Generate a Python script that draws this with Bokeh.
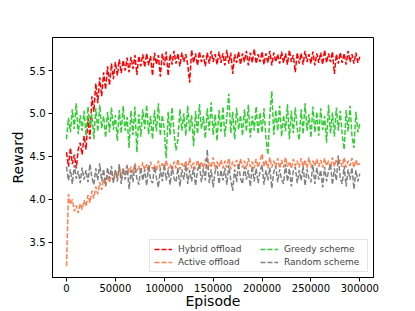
from bokeh.plotting import figure
from bokeh.models import Range1d, FixedTicker, NumeralTickFormatter, Legend, LegendItem
from bokeh.embed import file_html
from bokeh.resources import INLINE

episodes = list(range(0, 300001, 2000))

hybrid_offload = [
    4.55, 4.38, 4.60, 4.41, 4.52, 4.36, 4.58, 4.66, 4.52, 4.74,
    4.58, 4.95, 4.70, 5.20, 5.02, 5.35, 5.12, 5.42, 5.20, 5.48,
    5.28, 5.55, 5.33, 5.58, 5.40, 5.60, 5.44, 5.63, 5.47, 5.62,
    5.50, 5.65, 5.48, 5.66, 5.52, 5.68, 5.45, 5.67, 5.55, 5.69,
    5.54, 5.70, 5.56, 5.67, 5.44, 5.71, 5.57, 5.68, 5.43, 5.70,
    5.56, 5.72, 5.44, 5.69, 5.57, 5.73, 5.58, 5.70, 5.55, 5.71,
    5.60, 5.69, 5.57, 5.36, 5.74, 5.59, 5.70, 5.56, 5.72, 5.60,
    5.68, 5.55, 5.71, 5.58, 5.73, 5.60, 5.69, 5.57, 5.72, 5.59,
    5.70, 5.56, 5.74, 5.58, 5.71, 5.46, 5.69, 5.59, 5.72, 5.57,
    5.70, 5.60, 5.73, 5.56, 5.71, 5.59, 5.75, 5.58, 5.69, 5.60,
    5.72, 5.57, 5.70, 5.59, 5.73, 5.56, 5.71, 5.60, 5.69, 5.58,
    5.72, 5.59, 5.70, 5.57, 5.74, 5.60, 5.68, 5.48, 5.71, 5.58,
    5.70, 5.57, 5.73, 5.60, 5.69, 5.58, 5.72, 5.56, 5.70, 5.59,
    5.71, 5.57, 5.74, 5.59, 5.70, 5.60, 5.72, 5.46, 5.69, 5.58,
    5.71, 5.59, 5.70, 5.57, 5.73, 5.60, 5.69, 5.58, 5.71, 5.59, 5.66,
]

active_offload = [
    3.22, 4.06, 3.94, 4.00, 3.86, 3.93, 3.84, 3.95, 3.88, 3.99,
    3.92, 4.05, 3.96, 4.10, 4.01, 4.15, 4.06, 4.20, 4.11, 4.24,
    4.15, 4.28, 4.19, 4.31, 4.22, 4.34, 4.24, 4.37, 4.27, 4.36,
    4.29, 4.40, 4.31, 4.38, 4.30, 4.42, 4.33, 4.39, 4.31, 4.43,
    4.34, 4.41, 4.32, 4.44, 4.35, 4.40, 4.33, 4.45, 4.36, 4.42,
    4.34, 4.46, 4.35, 4.41, 4.33, 4.44, 4.36, 4.47, 4.35, 4.42,
    4.37, 4.45, 4.34, 4.48, 4.36, 4.43, 4.35, 4.46, 4.37, 4.44,
    4.36, 4.47, 4.34, 4.43, 4.37, 4.49, 4.35, 4.44, 4.38, 4.46,
    4.36, 4.45, 4.37, 4.48, 4.35, 4.44, 4.38, 4.46, 4.36, 4.47,
    4.37, 4.45, 4.35, 4.48, 4.38, 4.44, 4.36, 4.47, 4.37, 4.45,
    4.53, 4.38, 4.46, 4.36, 4.49, 4.37, 4.45, 4.38, 4.48, 4.36,
    4.46, 4.37, 4.49, 4.38, 4.44, 4.36, 4.47, 4.39, 4.45, 4.37,
    4.48, 4.38, 4.46, 4.36, 4.49, 4.37, 4.45, 4.39, 4.47, 4.38,
    4.46, 4.37, 4.48, 4.39, 4.45, 4.36, 4.49, 4.38, 4.47, 4.40,
    4.46, 4.38, 4.49, 4.37, 4.45, 4.39, 4.48, 4.37, 4.46, 4.39, 4.42,
]

greedy_scheme = [
    4.70, 4.95, 4.78, 5.05, 4.82, 5.12, 4.76, 4.98, 4.80, 5.03,
    4.74, 5.08, 4.85, 4.99, 4.70, 5.06, 4.79, 5.10, 4.83, 4.97,
    4.72, 5.02, 4.78, 5.07, 4.81, 4.98, 4.68, 5.04, 4.77, 5.09,
    4.80, 4.96, 4.60, 5.03, 4.75, 5.08, 4.55, 4.99, 4.73, 5.05,
    4.82, 5.10, 4.76, 4.97, 4.70, 5.04, 4.79, 5.12, 4.74, 4.98,
    4.81, 4.48, 5.02, 4.75, 5.07, 4.78, 4.57, 4.70, 5.05, 4.80,
    5.00, 4.74, 5.09, 4.79, 4.98, 4.62, 5.03, 4.76, 5.11, 4.82,
    4.97, 4.71, 5.06, 4.80, 5.13, 4.75, 4.99, 4.68, 5.04, 4.79,
    5.08, 4.73, 4.96, 5.23, 4.77, 5.02, 4.70, 5.07, 4.81, 4.98,
    4.74, 5.05, 4.79, 5.10, 4.72, 4.97, 4.80, 5.08, 4.76, 5.01,
    4.78, 5.06, 4.71, 4.52, 4.99, 5.26, 4.75, 5.04, 4.80, 5.09,
    4.73, 4.98, 4.79, 5.11, 4.70, 5.03, 4.77, 5.07, 4.82, 4.69,
    5.05, 4.76, 5.12, 4.80, 4.99, 4.72, 5.08, 4.78, 5.02, 4.74,
    5.06, 4.81, 4.97, 4.66, 5.10, 4.77, 5.01, 4.73, 5.07, 4.80,
    5.03, 4.75, 4.58, 5.04, 4.79, 5.09, 4.74, 4.60, 5.02, 4.78, 4.88,
]

random_scheme = [
    4.38, 4.22, 4.35, 4.18, 4.40, 4.24, 4.33, 4.19, 4.37, 4.23,
    4.34, 4.20, 4.41, 4.25, 4.17, 4.36, 4.22, 4.42, 4.21, 4.35,
    4.16, 4.37, 4.24, 4.39, 4.19, 4.34, 4.21, 4.41, 4.18, 4.36,
    4.23, 4.39, 4.12, 4.34, 4.20, 4.40, 4.24, 4.17, 4.37, 4.22,
    4.35, 4.16, 4.40, 4.23, 4.19, 4.38, 4.25, 4.14, 4.36, 4.21,
    4.41, 4.22, 4.34, 4.17, 4.39, 4.24, 4.20, 4.37, 4.15, 4.35,
    4.23, 4.40, 4.18, 4.34, 4.21, 4.38, 4.16, 4.33, 4.41, 4.20,
    4.36, 4.22, 4.58, 4.19, 4.35, 4.14, 4.32, 4.39, 4.18, 4.34,
    4.22, 4.37, 4.17, 4.40, 4.23, 4.10, 4.35, 4.20, 4.42, 4.24,
    4.18, 4.38, 4.23, 4.34, 4.15, 4.39, 4.21, 4.36, 4.19, 4.33,
    4.40, 4.17, 4.34, 4.22, 4.37, 4.13, 4.32, 4.39, 4.20, 4.35,
    4.23, 4.18, 4.41, 4.21, 4.36, 4.15, 4.33, 4.38, 4.19, 4.34,
    4.22, 4.39, 4.16, 4.35, 4.24, 4.20, 4.40, 4.18, 4.37, 4.23,
    4.34, 4.14, 4.38, 4.21, 4.33, 4.41, 4.17, 4.36, 4.22, 4.51,
    4.24, 4.18, 4.39, 4.15, 4.35, 4.23, 4.37, 4.12, 4.34, 4.21, 4.30,
]

series_names = ["Hybrid offload", "Active offload", "Greedy scheme", "Random scheme"]
series_colors = ["#ff0000", "#ff7f50", "#32cd32", "#808080"]
x_ticks = [0, 50000, 100000, 150000, 200000, 250000, 300000]
y_ticks = [3.5, 4.0, 4.5, 5.0, 5.5]
x_label = "Episode"
y_label = "Reward"

FONT = "DejaVu Sans"

p = figure(width=415, height=311, output_backend="svg", toolbar_location=None,
           x_range=Range1d(-14300, 314000), y_range=Range1d(3.09, 5.885),
           min_border_left=52, min_border_right=42, min_border_top=37, min_border_bottom=34)
p.background_fill_color = "white"
p.border_fill_color = "white"
p.outline_line_color = "black"
p.outline_line_width = 1
p.xgrid.visible = False
p.ygrid.visible = False

renderers = []
for ys, name, col in zip([hybrid_offload, active_offload, greedy_scheme, random_scheme],
                         series_names, series_colors):
    r = p.line(episodes, ys, line_color=col, line_width=1.5, line_dash="5 2")
    renderers.append(r)

for ax in (p.xaxis[0], p.yaxis[0]):
    ax.axis_line_color = "black"
    ax.major_tick_line_color = "black"
    ax.major_tick_in = 0
    ax.major_tick_out = 4
    ax.minor_tick_line_color = None
    ax.major_label_text_font = FONT
    ax.major_label_text_font_size = "10px"
    ax.major_label_text_color = "black"
    ax.axis_label_text_font = FONT
    ax.axis_label_text_font_size = "14px"
    ax.axis_label_text_font_style = "normal"
    ax.axis_label_text_color = "black"

p.xaxis.ticker = FixedTicker(ticks=x_ticks)
p.xaxis.formatter = NumeralTickFormatter(format="0")
p.yaxis.ticker = FixedTicker(ticks=y_ticks)
p.yaxis.formatter = NumeralTickFormatter(format="0.0")
p.xaxis.axis_label = x_label
p.yaxis.axis_label = y_label
p.xaxis.major_label_standoff = 2
p.xaxis.axis_label_standoff = -2
p.yaxis.major_label_standoff = 3
p.yaxis.axis_label_standoff = 1

legend = Legend(items=[LegendItem(label=n, renderers=[r]) for n, r in zip(series_names, renderers)],
                location="bottom_right", orientation="vertical", nrows=2,
                label_text_font=FONT, label_text_font_size="9px",
                glyph_width=18, glyph_height=10, label_height=10, label_width=79,
                label_standoff=6, spacing=3, padding=4, margin=5,
                border_line_color="#cccccc", border_line_width=1,
                background_fill_color="white", background_fill_alpha=0.8)
p.add_layout(legend, "center")

open("out.html", "w").write(file_html(p, INLINE))
